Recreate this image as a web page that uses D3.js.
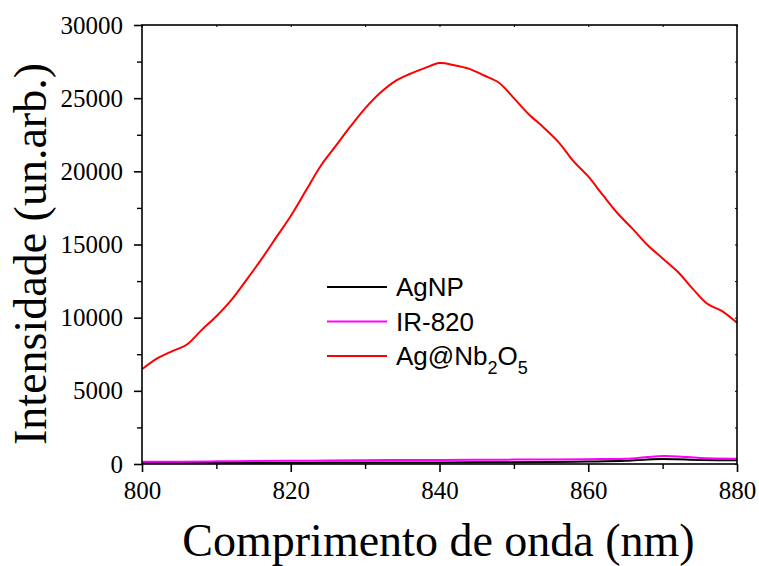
<!DOCTYPE html>
<html>
<head>
<meta charset="utf-8">
<script src="https://cdn.jsdelivr.net/npm/d3@7"></script>
<style>
  html, body { margin: 0; padding: 0; background: #fff; }
  svg { display: block; }
</style>
</head>
<body>
<svg id="chart" width="759" height="566"></svg>
<script>
// Emission spectra, wavelength (nm) vs intensity (arb. units)
const wavelengthRed = [800, 802, 804, 806, 808, 810, 812, 814, 816, 818, 820, 822, 824, 826, 828, 830,
  832, 834, 836, 838, 840, 842, 844, 846, 848, 850, 852, 854, 856, 858, 860, 862, 864, 866, 868, 870,
  872, 874, 876, 878, 880];
const agNbO = [6470, 7200, 7700, 8150, 9150, 10100, 11200, 12550, 13950, 15450, 16950, 18650, 20350,
  21700, 23050, 24300, 25350, 26150, 26650, 27050, 27400, 27250, 27000, 26550, 26050, 25000, 23900,
  23000, 22000, 20700, 19650, 18350, 17100, 16050, 14950, 14050, 13150, 12000, 10950, 10450, 9650];

const wavelengthLow = [800, 805, 810, 815, 820, 825, 830, 835, 840, 845, 850, 855, 860, 865, 868, 870, 872, 875, 880];
const ir820 = [150, 160, 180, 200, 220, 240, 260, 270, 280, 290, 300, 310, 330, 360, 480, 540, 520, 410, 360];
const agNP  = [80, 80, 80, 85, 90, 95, 100, 105, 110, 115, 120, 140, 170, 220, 310, 340, 320, 270, 260];

const xTicks = [800, 820, 840, 860, 880];
const yTicks = [0, 5000, 10000, 15000, 20000, 25000, 30000];

const svg = d3.select("#chart");
const m = { left: 142, right: 737, top: 25, bottom: 464 };

const x = d3.scaleLinear().domain([800, 880]).range([m.left, m.right]);
const y = d3.scaleLinear().domain([0, 30000]).range([m.bottom, m.top]);

const serif = "'Liberation Serif', 'Times New Roman', serif";
const sans = "'Liberation Sans', Arial, sans-serif";

// Series
const series = [
  { name: "AgNP", xs: wavelengthLow, ys: agNP, color: "#000000" },
  { name: "IR-820", xs: wavelengthLow, ys: ir820, color: "#ff00ff" },
  { name: "Ag@Nb2O5", xs: wavelengthRed, ys: agNbO, color: "#ff0000" }
];

const line = d3.line()
  .x(d => x(d[0]))
  .y(d => y(d[1]))
  .curve(d3.curveCatmullRom.alpha(0.5));

const plot = svg.append("g");
series.forEach(s => {
  plot.append("path")
    .datum(s.xs.map((v, i) => [v, s.ys[i]]))
    .attr("fill", "none")
    .attr("stroke", s.color)
    .attr("stroke-width", 2)
    .attr("d", line);
});

// Frame
svg.append("rect")
  .attr("x", m.left).attr("y", m.top)
  .attr("width", m.right - m.left).attr("height", m.bottom - m.top)
  .attr("fill", "none").attr("stroke", "#000").attr("stroke-width", 1.6);

// Bottom axis
const xAxis = d3.axisBottom(x).tickValues(xTicks).tickSize(8).tickPadding(9).tickFormat(d3.format("d"));
const gx = svg.append("g").attr("transform", `translate(0,${m.bottom})`).call(xAxis);
gx.select(".domain").remove();
gx.selectAll(".tick line").attr("stroke-width", 1.6);
gx.selectAll("text").attr("font-family", serif).attr("font-size", 25).attr("fill", "#000");
const gxMinor = svg.append("g").attr("transform", `translate(0,${m.bottom})`)
  .call(d3.axisBottom(x).tickValues(d3.range(810, 880, 20)).tickSize(5).tickFormat(""));
gxMinor.select(".domain").remove();
gxMinor.selectAll(".tick line").attr("stroke-width", 1.4);

// Left axis
const yAxis = d3.axisLeft(y).tickValues(yTicks).tickSize(8).tickPadding(11).tickFormat(d3.format("d"));
const gy = svg.append("g").attr("transform", `translate(${m.left},0)`).call(yAxis);
gy.select(".domain").remove();
gy.selectAll(".tick line").attr("stroke-width", 1.6);
gy.selectAll("text").attr("font-family", serif).attr("font-size", 25).attr("fill", "#000");
const gyMinor = svg.append("g").attr("transform", `translate(${m.left},0)`)
  .call(d3.axisLeft(y).tickValues(d3.range(2500, 30000, 5000)).tickSize(5).tickFormat(""));
gyMinor.select(".domain").remove();
gyMinor.selectAll(".tick line").attr("stroke-width", 1.4);

// Small mirrored ticks on top and right edges
const gTop = svg.append("g").attr("transform", `translate(0,${m.top})`)
  .call(d3.axisBottom(x).tickValues(d3.range(800, 881, 10)).tickSize(2).tickFormat(""));
gTop.select(".domain").remove();
const gRight = svg.append("g").attr("transform", `translate(${m.right},0)`)
  .call(d3.axisLeft(y).tickValues(d3.range(0, 30001, 2500)).tickSize(2).tickFormat(""));
gRight.select(".domain").remove();

// Axis titles
svg.append("text")
  .attr("x", (m.left + m.right) / 2 - 1).attr("y", 556)
  .attr("text-anchor", "middle")
  .attr("font-family", serif).attr("font-size", 46).attr("fill", "#000")
  .text("Comprimento de onda (nm)");

svg.append("text")
  .attr("transform", `translate(46,254) rotate(-90)`)
  .attr("text-anchor", "middle")
  .attr("font-family", serif).attr("font-size", 46).attr("fill", "#000")
  .text("Intensidade (un.arb.)");

// Legend
const legend = svg.append("g").attr("transform", "translate(327,287)");
const rowGap = 34.5;
series.forEach((s, i) => {
  const row = legend.append("g").attr("transform", `translate(0,${i * rowGap})`);
  row.append("line").attr("x1", 0).attr("x2", 60).attr("y1", 0).attr("y2", 0)
    .attr("stroke", s.color).attr("stroke-width", 2);
  const t = row.append("text").attr("x", 69).attr("y", 9)
    .attr("font-family", sans).attr("font-size", 26).attr("fill", "#000");
  if (s.name === "Ag@Nb2O5") {
    t.append("tspan").text("Ag@Nb");
    t.append("tspan").attr("font-size", 18).attr("dy", 9).text("2");
    t.append("tspan").attr("dy", -9).text("O");
    t.append("tspan").attr("font-size", 18).attr("dy", 9).text("5");
  } else {
    t.text(s.name);
  }
});
</script>
</body>
</html>
